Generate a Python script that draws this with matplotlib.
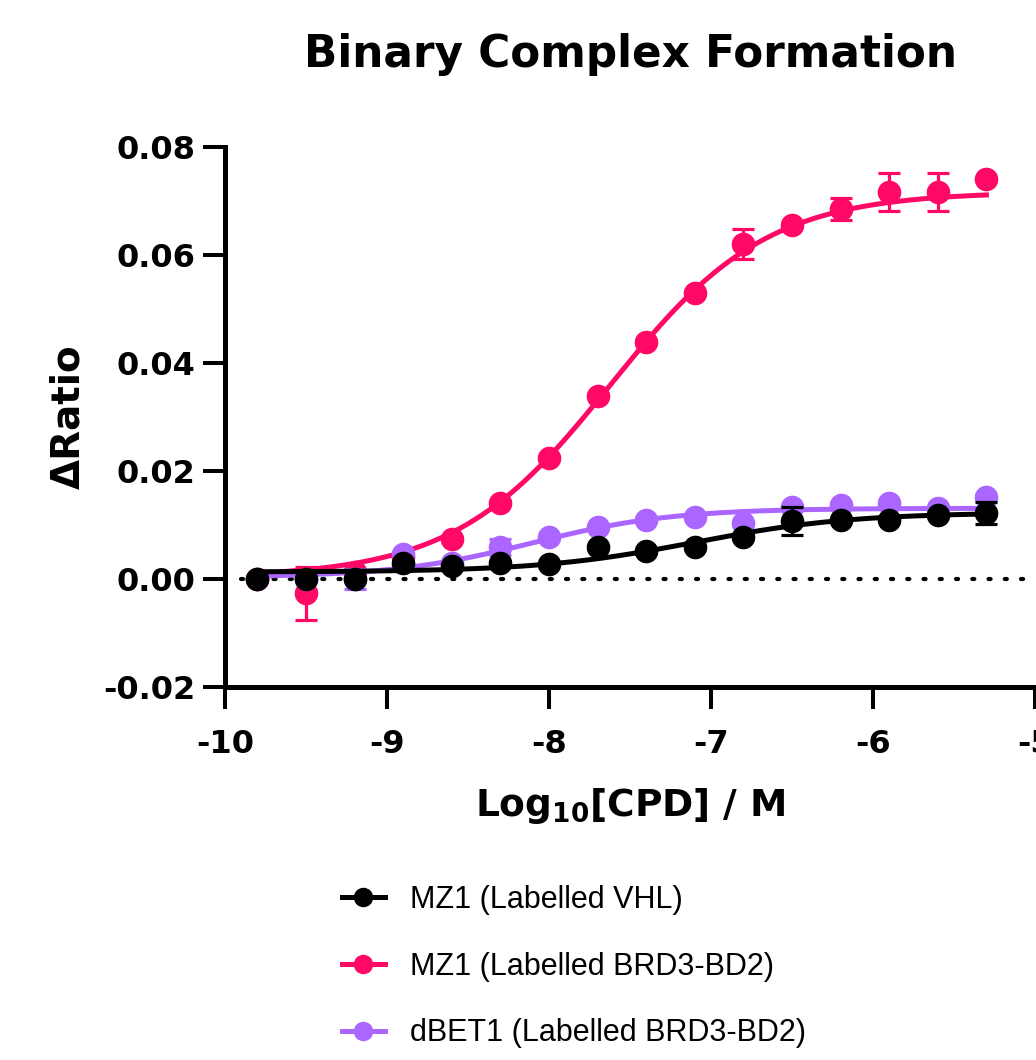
import numpy as np
import matplotlib
matplotlib.use("Agg")
import matplotlib.pyplot as plt
from matplotlib.lines import Line2D

plt.rcParams['font.family'] = ['DejaVu Sans']
plt.rcParams['mathtext.fontset'] = 'custom'
plt.rcParams['mathtext.rm'] = 'DejaVu Sans'
plt.rcParams['mathtext.bf'] = 'DejaVu Sans:bold'

# --- data ---
log_conc = [-9.8, -9.5, -9.2, -8.9, -8.6, -8.3, -8.0, -7.7, -7.4, -7.1,
            -6.8, -6.5, -6.2, -5.9, -5.6, -5.3]

vhl_mean = [0.0, 0.0, 0.0, 0.0030, 0.0024, 0.0030, 0.0028, 0.0060, 0.0052, 0.0059,
            0.0078, 0.0107, 0.0109, 0.0109, 0.0119, 0.0122]
vhl_err = [0, 0, 0, 0, 0, 0, 0, 0, 0, 0, 0, 0.0026, 0, 0, 0, 0.0020]

brd_mean = [0.0, -0.0026, 0.0013, 0.0040, 0.0074, 0.0141, 0.0224, 0.0339, 0.0439, 0.0530,
            0.0620, 0.0656, 0.0685, 0.0717, 0.0717, 0.0741]
brd_err = [0, 0.0049, 0, 0, 0, 0, 0, 0, 0, 0, 0.0028, 0, 0.0020, 0.0035, 0.0035, 0]

dbet_mean = [0.0, 0.0, 0.0, 0.0046, 0.0030, 0.0059, 0.0078, 0.0096, 0.0110, 0.0115,
             0.0104, 0.0133, 0.0137, 0.0140, 0.0131, 0.0152]
dbet_err = [0, 0, 0.0019, 0, 0, 0.0015, 0, 0, 0, 0, 0, 0, 0, 0, 0, 0]

# fitted curve parameters (bottom, top, logEC50, hill)
vhl_fit = (0.0013, 0.0123, -7.1, 0.9)
brd_fit = (0.0003, 0.0717, -7.62, 0.9)
dbet_fit = (0.0003, 0.0131, -8.1, 1.0)

labels = ["MZ1 (Labelled VHL)", "MZ1 (Labelled BRD3-BD2)", "dBET1 (Labelled BRD3-BD2)"]
colors = ["#000000", "#FF0866", "#AA66FF"]


def four_pl(x, bottom, top, ec50, hill):
    return bottom + (top - bottom) / (1 + 10 ** ((ec50 - x) * hill))


fig = plt.figure(figsize=(10.36, 10.6), dpi=100)
ax = fig.add_axes([225 / 1036, 1 - 687 / 1060, (1035 - 225) / 1036, (687 - 147) / 1060])

ax.axhline(0, xmin=0.02, color="black", lw=3.0, linestyle=(0, (0.5, 3.4)),
           dash_capstyle="round", zorder=1)

xs = np.linspace(log_conc[0], log_conc[-1], 300)
series = [(vhl_mean, vhl_err, vhl_fit), (brd_mean, brd_err, brd_fit), (dbet_mean, dbet_err, dbet_fit)]
z = {0: 6, 1: 4, 2: 5}
for i in [2, 1, 0]:
    m, e, p = series[i]
    ax.plot(xs, four_pl(xs, *p), color=colors[i], lw=3.6, zorder=z[i])
    ax.errorbar(log_conc, m, yerr=e, fmt="o", color=colors[i], ms=16, elinewidth=2.3,
                capsize=8, capthick=2.3, zorder=z[i])

ax.set_xlim(-10, -5)
ax.set_ylim(-0.02, 0.08)
ax.set_xticks([-10, -9, -8, -7, -6, -5])
ax.set_yticks([-0.02, 0.0, 0.02, 0.04, 0.06, 0.08])
ax.set_yticklabels(["-0.02", "0.00", "0.02", "0.04", "0.06", "0.08"])
ax.set_xticklabels(["-10", "-9", "-8", "-7", "-6", "-5"])
for s in ["top", "right"]:
    ax.spines[s].set_visible(False)
for s in ["left", "bottom"]:
    ax.spines[s].set_linewidth(3.6)
ax.tick_params(width=2.9, length=16, labelsize=23)
ax.tick_params(axis="y", pad=5)
ax.tick_params(axis="x", pad=14)
for t in ax.get_xticklabels() + ax.get_yticklabels():
    t.set_fontweight("bold")

ax.set_ylabel("\u0394Ratio", fontsize=28, fontweight="bold", labelpad=12)
ax.set_xlabel(r"Log$_{\mathbf{10}}$[CPD] / M", fontsize=27, fontweight="bold", labelpad=19)
fig.text(631 / 1036, 1 - 54 / 1060, "Binary Complex Formation", ha="center", va="center",
         fontsize=31.5, fontweight="bold")

handles = [Line2D([], [], color=c, lw=3.6, marker="o", ms=13) for c in colors]
fig.legend(handles, labels, loc="upper left", bbox_to_anchor=(342 / 1036, 1 - 885 / 1060),
           frameon=False, borderpad=0, borderaxespad=0, handlelength=1.4, handletextpad=0.82,
           labelspacing=1.2, prop={"family": ["Liberation Sans"], "size": 22})

fig.savefig("out.png", dpi=100)
